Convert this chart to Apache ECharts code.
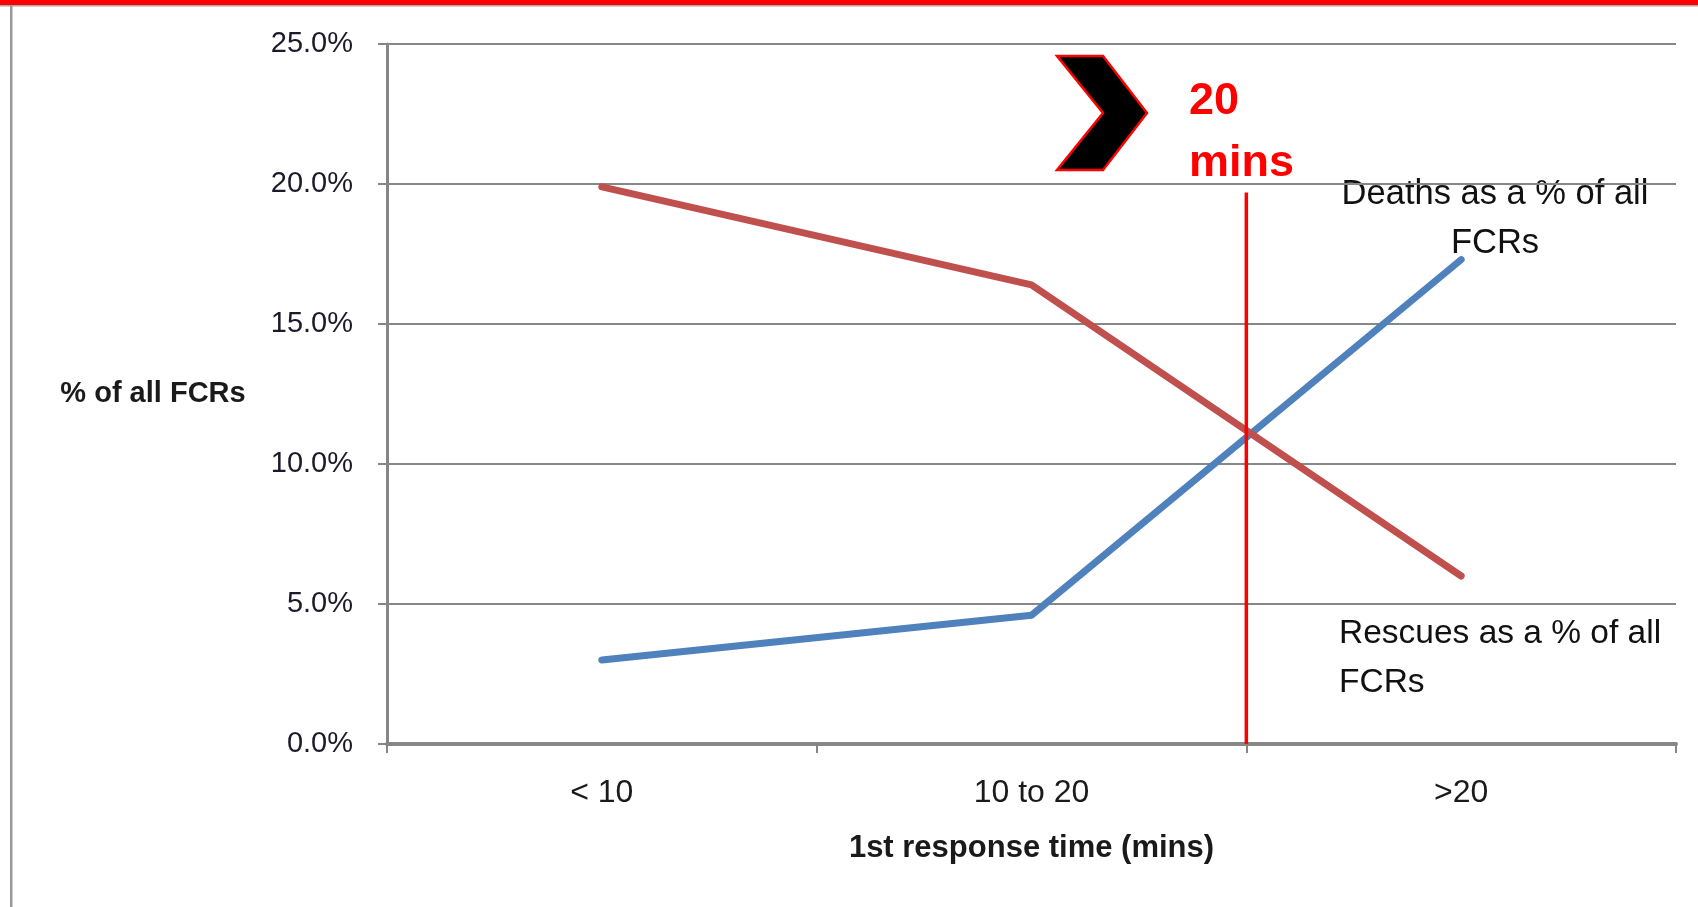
<!DOCTYPE html>
<html>
<head>
<meta charset="utf-8">
<script src="https://cdn.jsdelivr.net/npm/echarts@6/dist/echarts.min.js"></script>
<style>
html,body{margin:0;padding:0;background:#fff;}
#chart{width:1698px;height:907px;}
</style>
</head>
<body>
<div id="chart"></div>
<script>
const categories = ['< 10', '10 to 20', '>20'];
const deathsPct = [3.0, 4.6, 17.3];
const rescuesPct = [19.9, 16.4, 6.0];
const yMin = 0, yMax = 25, yStep = 5;
const cutoffLine = [[2, 0], [2, 19.7]];
const deathsLabel = 'Deaths as a % of all\nFCRs';
const rescuesLabel = 'Rescues as a % of all\nFCRs';
const cutoffText = '20\nmins';

const FONT = '"Liberation Sans", Arial, sans-serif';
const chart = echarts.init(document.getElementById('chart'));
const option = {
  backgroundColor: '#ffffff',
  animation: false,
  grid: {left: 387, right: 22, top: 44, bottom: 163},
  xAxis: [{
    type: 'category',
    data: categories,
    boundaryGap: true,
    name: '1st response time (mins)',
    nameLocation: 'middle',
    nameGap: 89,
    nameTextStyle: {fontFamily: FONT, fontSize: 31, fontWeight: 'bold', color: '#1a1a1a', verticalAlign: 'top'},
    axisLine: {lineStyle: {color: '#868686', width: 4}},
    axisTick: {show: true, length: 9, lineStyle: {color: '#868686', width: 2}},
    axisLabel: {fontFamily: FONT, fontSize: 32, color: '#1a1a1a', margin: 33},
    splitLine: {show: false}
  }, {
    type: 'value', min: 0, max: categories.length, show: false
  }],
  yAxis: {
    type: 'value',
    min: yMin, max: yMax, interval: yStep,
    name: '% of all FCRs',
    nameLocation: 'middle',
    nameRotate: 0,
    nameGap: 234,
    nameTextStyle: {fontFamily: FONT, fontSize: 29, fontWeight: 'bold', color: '#1a1a1a', align: 'center', verticalAlign: 'middle', padding: [18, 0, 0, 0]},
    axisLine: {show: true, lineStyle: {color: '#868686', width: 3}},
    axisTick: {show: true, length: 9, lineStyle: {color: '#868686', width: 2}},
    axisLabel: {fontFamily: FONT, fontSize: 29, color: '#1a1a2a', margin: 34, padding: [12, 0, 0, 0], formatter: v => v.toFixed(1) + '%'},
    splitLine: {show: true, lineStyle: {color: '#878787', width: 2}}
  },
  series: [{
    name: 'Deaths', type: 'line', data: deathsPct, symbol: 'none',
    lineStyle: {color: '#4f81bd', width: 7, cap: 'round', join: 'round'}
  }, {
    name: 'Rescues', type: 'line', data: rescuesPct, symbol: 'none',
    lineStyle: {color: '#c0504d', width: 7, cap: 'round', join: 'round'}
  }, {
    name: 'Cutoff', type: 'line', xAxisIndex: 1, data: cutoffLine, symbol: 'none',
    lineStyle: {color: '#ff0000', width: 3.5}, z: 5
  }],
  graphic: [
    {type: 'rect', shape: {x: 0, y: 0, width: 1698, height: 5}, style: {fill: '#ff0000'}, silent: true},
    {type: 'rect', shape: {x: 0, y: 5, width: 1698, height: 1.5}, style: {fill: '#a8a8a8'}, silent: true},
    {type: 'rect', shape: {x: 10, y: 5, width: 2.5, height: 902}, style: {fill: '#9a9a9a'}, silent: true},
    {type: 'polygon', shape: {points: [[1057,56],[1103,56],[1147,113],[1103,170],[1057,170],[1103,113]]},
      style: {fill: '#000000', stroke: '#ff0000', lineWidth: 2.5}, silent: true},
    {type: 'text', style: {x: 1189, y: 133, text: cutoffText, fontFamily: FONT, fontSize: 45, fontWeight: 'bold',
      fill: '#ff0000', lineHeight: 62, textAlign: 'left', textVerticalAlign: 'middle'}, silent: true},
    {type: 'text', style: {x: 1495, y: 219, text: deathsLabel, fontFamily: FONT, fontSize: 34.5,
      fill: '#111111', lineHeight: 49, textAlign: 'center', textVerticalAlign: 'middle'}, silent: true},
    {type: 'text', style: {x: 1339, y: 658, text: rescuesLabel, fontFamily: FONT, fontSize: 33.5,
      fill: '#111111', lineHeight: 49, textAlign: 'left', textVerticalAlign: 'middle'}, silent: true}
  ]
};
chart.setOption(option);
</script>
</body>
</html>
